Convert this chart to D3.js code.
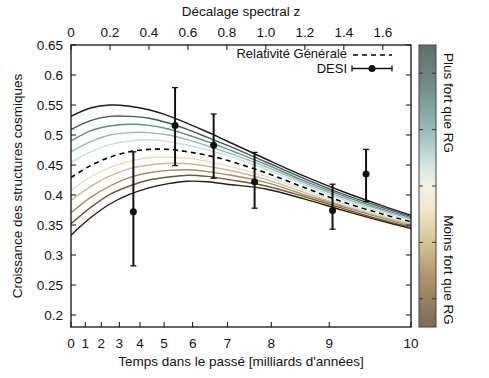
<!DOCTYPE html>
<html><head><meta charset="utf-8">
<script src="https://cdn.jsdelivr.net/npm/d3@7"></script>
<style>
html,body{margin:0;padding:0;background:#fff;}
svg{display:block;font-family:"Liberation Sans",Arial,Helvetica,sans-serif;}
</style></head>
<body>
<script>
// ---------------- DATA ----------------
const zNodes = [0, 0.1, 0.2, 0.3, 0.4, 0.5, 0.6, 0.7, 0.8, 1.0, 1.2, 1.4, 1.6, 1.757];
const strong5 = [0.531,0.545,0.550,0.548,0.542,0.532,0.519,0.505,0.490,0.460,0.431,0.405,0.382,0.365];
const strong4 = [0.509,0.524,0.531,0.531,0.528,0.520,0.509,0.496,0.483,0.455,0.427,0.401,0.379,0.363];
const strong3 = [0.490,0.507,0.515,0.518,0.516,0.510,0.500,0.489,0.477,0.451,0.423,0.398,0.376,0.361];
const strong2 = [0.472,0.489,0.500,0.504,0.504,0.500,0.492,0.482,0.471,0.447,0.420,0.395,0.374,0.359];
const strong1 = [0.454,0.472,0.484,0.490,0.492,0.489,0.483,0.475,0.466,0.443,0.417,0.392,0.371,0.357];
const grCurve = [0.429,0.449,0.463,0.472,0.476,0.476,0.472,0.466,0.458,0.437,0.412,0.388,0.368,0.354];
const weak1   = [0.408,0.430,0.446,0.456,0.462,0.463,0.461,0.456,0.449,0.431,0.408,0.385,0.365,0.352];
const weak2   = [0.391,0.414,0.432,0.444,0.450,0.453,0.452,0.448,0.442,0.426,0.404,0.382,0.363,0.350];
const weak3   = [0.370,0.396,0.415,0.429,0.437,0.441,0.442,0.439,0.434,0.421,0.400,0.380,0.361,0.347];
const weak4   = [0.352,0.379,0.401,0.415,0.425,0.430,0.433,0.431,0.426,0.415,0.397,0.377,0.358,0.345];
const weak5   = [0.333,0.362,0.385,0.401,0.412,0.419,0.423,0.422,0.418,0.410,0.393,0.374,0.356,0.343];

const desiZ  = [0.32, 0.534, 0.732, 0.942, 1.342, 1.514];
const desiF  = [0.372, 0.516, 0.483, 0.422, 0.374, 0.435];
const desiLo = [0.282, 0.449, 0.428, 0.378, 0.343, 0.389];
const desiHi = [0.472, 0.579, 0.535, 0.471, 0.418, 0.476];

const yTicks = [0.2, 0.25, 0.3, 0.35, 0.4, 0.45, 0.5, 0.55, 0.6, 0.65];
const zTicks = [0, 0.2, 0.4, 0.6, 0.8, 1.0, 1.2, 1.4, 1.6];
const zTickLabels = ["0", "0.2", "0.4", "0.6", "0.8", "1.0", "1.2", "1.4", "1.6"];
const timeTicks = [0, 1, 2, 3, 4, 5, 6, 7, 8, 9, 10];
const cbTicks = [0.1, 0.3, 0.5, 0.7, 0.9];

const curveColors = ["#1b1b1b","#3e5a55","#628a84","#94bab5","#c8dfdc","#000","#e6dcbd","#cdb98c","#a78b5c","#6b583c","#231d16"];
const curveSeries = [strong5, strong4, strong3, strong2, strong1, grCurve, weak1, weak2, weak3, weak4, weak5];

// ---------------- LAYOUT ----------------
const W = 489, H = 378;
const m = {left: 71, right: 411, top: 45, bottom: 327};

// lookback time (Gyr) for flat LCDM, used to place the bottom time axis
const H0 = 68.1, Om = 0.31, hubbleTime = 977.8 / H0;
function lookback(z) {
  const n = 200, h = z / n;
  if (z === 0) return 0;
  const f = u => 1 / ((1 + u) * Math.sqrt(Om * Math.pow(1 + u, 3) + 1 - Om));
  let s = f(0) + f(z);
  for (let i = 1; i < n; i++) s += (i % 2 ? 4 : 2) * f(i * h);
  return hubbleTime * s * h / 3;
}
function zOfT(t) {
  let a = 0, b = 6;
  for (let i = 0; i < 60; i++) { const c = (a + b) / 2; if (lookback(c) < t) a = c; else b = c; }
  return (a + b) / 2;
}
const zMax = zOfT(10);

const x = d3.scaleLinear().domain([0, zMax]).range([m.left, m.right]);
const y = d3.scaleLinear().domain([0.18, 0.65]).range([m.bottom, m.top]);

const svg = d3.select("body").append("svg").attr("width", W).attr("height", H);
svg.append("rect").attr("width", W).attr("height", H).attr("fill", "#fff");

svg.append("clipPath").attr("id", "clip").append("rect")
  .attr("x", m.left).attr("y", m.top).attr("width", m.right - m.left).attr("height", m.bottom - m.top);

const fs = 13.5;

// curves
const line = d3.line().x(d => x(d[0])).y(d => y(d[1])).curve(d3.curveCatmullRom.alpha(0.5));
const cg = svg.append("g").attr("clip-path", "url(#clip)");
curveSeries.forEach((s, i) => {
  cg.append("path").datum(zNodes.map((z, j) => [z, s[j]]))
    .attr("d", line).attr("fill", "none")
    .attr("stroke", curveColors[i])
    .attr("stroke-width", i === 5 ? 1.6 : 1.4)
    .attr("stroke-dasharray", i === 5 ? "5,4" : null);
});

// DESI points
const dg = svg.append("g");
desiZ.forEach((z, i) => {
  const px = x(z);
  dg.append("line").attr("x1", px).attr("x2", px).attr("y1", y(desiLo[i])).attr("y2", y(desiHi[i]))
    .attr("stroke", "#111").attr("stroke-width", 2);
  [desiLo[i], desiHi[i]].forEach(v => dg.append("line").attr("x1", px - 3).attr("x2", px + 3)
    .attr("y1", y(v)).attr("y2", y(v)).attr("stroke", "#111").attr("stroke-width", 1.3));
  dg.append("circle").attr("cx", px).attr("cy", y(desiF[i])).attr("r", 3.5).attr("fill", "#111");
});

// frame
svg.append("rect").attr("x", m.left).attr("y", m.top).attr("width", m.right - m.left).attr("height", m.bottom - m.top)
  .attr("fill", "none").attr("stroke", "#111").attr("stroke-width", 1.3);

// y axis (ticks inward, mirrored on right)
const yAxis = svg.append("g");
yTicks.forEach(v => {
  yAxis.append("line").attr("x1", m.left).attr("x2", m.left + 5).attr("y1", y(v)).attr("y2", y(v)).attr("stroke", "#111");
  yAxis.append("line").attr("x1", m.right - 5).attr("x2", m.right).attr("y1", y(v)).attr("y2", y(v)).attr("stroke", "#111");
  yAxis.append("text").attr("x", 63).attr("y", y(v)).attr("dy", "0.35em").attr("text-anchor", "end")
    .attr("font-size", fs).attr("fill", "#111").text(d3.format("~g")(v));
});

// top z axis
const zAxis = svg.append("g");
zTicks.forEach((v, i) => {
  zAxis.append("line").attr("x1", x(v)).attr("x2", x(v)).attr("y1", m.top).attr("y2", m.top + 5).attr("stroke", "#111");
  zAxis.append("text").attr("x", x(v)).attr("y", 36.5).attr("text-anchor", "middle")
    .attr("font-size", fs).attr("fill", "#111").text(zTickLabels[i]);
});
svg.append("text").attr("x", (m.left + m.right) / 2).attr("y", 16).attr("text-anchor", "middle")
  .attr("font-size", fs).attr("fill", "#111").text("Décalage spectral z");

// bottom time axis
const tAxis = svg.append("g");
timeTicks.forEach(t => {
  const px = x(zOfT(t));
  tAxis.append("line").attr("x1", px).attr("x2", px).attr("y1", m.bottom).attr("y2", m.bottom - 5).attr("stroke", "#111");
  tAxis.append("text").attr("x", px).attr("y", 348).attr("text-anchor", "middle")
    .attr("font-size", fs).attr("fill", "#111").text(t);
});
svg.append("text").attr("x", (m.left + m.right) / 2).attr("y", 366).attr("text-anchor", "middle")
  .attr("font-size", fs).attr("fill", "#111").text("Temps dans le passé [milliards d'années]");

// y title
svg.append("text").attr("transform", `translate(22,${(m.top + m.bottom) / 2}) rotate(-90)`)
  .attr("text-anchor", "middle").attr("font-size", fs).attr("fill", "#111")
  .text("Croissance des structures cosmiques");

// legend
const lg = svg.append("g");
lg.append("text").attr("x", 347).attr("y", 58).attr("text-anchor", "end").attr("font-size", 13).attr("fill", "#111").text("Relativité Générale");
lg.append("line").attr("x1", 353).attr("x2", 392).attr("y1", 55).attr("y2", 55).attr("stroke", "#000").attr("stroke-width", 1.6).attr("stroke-dasharray", "5,4");
lg.append("text").attr("x", 347).attr("y", 72.5).attr("text-anchor", "end").attr("font-size", 13).attr("fill", "#111").text("DESI");
lg.append("line").attr("x1", 352).attr("x2", 392).attr("y1", 68.5).attr("y2", 68.5).attr("stroke", "#111").attr("stroke-width", 1.3);
[352, 392].forEach(px => lg.append("line").attr("x1", px).attr("x2", px).attr("y1", 65.5).attr("y2", 71.5).attr("stroke", "#111").attr("stroke-width", 1.3));
lg.append("circle").attr("cx", 372).attr("cy", 68.5).attr("r", 3.5).attr("fill", "#111");

// colour bar
const cb = {x: 419, w: 17, top: m.top, bottom: m.bottom};
const grad = svg.append("defs").append("linearGradient").attr("id", "cbg").attr("x1", 0).attr("x2", 0).attr("y1", 0).attr("y2", 1);
[[0, "#5c706a"], [0.15, "#728f89"], [0.3, "#94bbb6"], [0.42, "#cfe5e2"], [0.5, "#f1f2e6"], [0.58, "#f1e7c9"],
 [0.7, "#d9c294"], [0.82, "#b1946a"], [1, "#7a6a55"]].forEach(s =>
  grad.append("stop").attr("offset", s[0]).attr("stop-color", s[1]));
svg.append("rect").attr("x", cb.x).attr("y", cb.top).attr("width", cb.w).attr("height", cb.bottom - cb.top)
  .attr("fill", "url(#cbg)").attr("stroke", "#444").attr("stroke-width", 1);
const cbScale = d3.scaleLinear().domain([0, 1]).range([cb.top, cb.bottom]);
cbTicks.forEach(v => {
  svg.append("line").attr("x1", cb.x).attr("x2", cb.x + 4).attr("y1", cbScale(v)).attr("y2", cbScale(v)).attr("stroke", "#333");
  svg.append("line").attr("x1", cb.x + cb.w - 4).attr("x2", cb.x + cb.w).attr("y1", cbScale(v)).attr("y2", cbScale(v)).attr("stroke", "#333");
});
svg.append("text").attr("transform", "translate(444,103) rotate(90)").attr("text-anchor", "middle")
  .attr("font-size", fs).attr("fill", "#111").text("Plus fort que RG");
svg.append("text").attr("transform", "translate(444,270) rotate(90)").attr("text-anchor", "middle")
  .attr("font-size", fs).attr("fill", "#111").text("Moins fort que RG");
</script>
</body></html>
